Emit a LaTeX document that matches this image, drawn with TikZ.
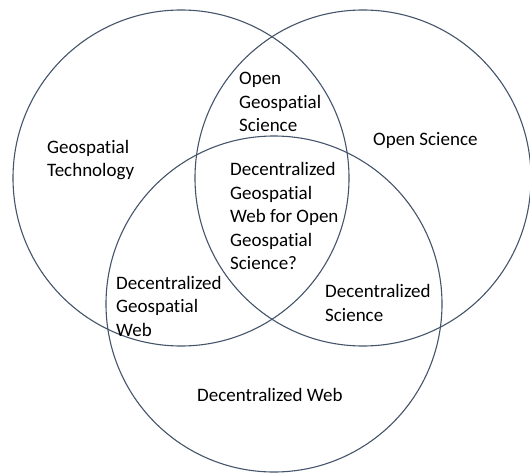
\documentclass[tikz,border=0pt]{standalone}
\usepackage{fontspec}
\setmainfont{Carlito}[Ligatures=NoCommon]
\definecolor{ringcol}{HTML}{44546A}
\begin{document}
\begin{tikzpicture}[x=1pt,y=-1pt,
  ringc/.style={circle, draw=ringcol, line width=1.1pt, inner sep=0pt, minimum size=336pt},
  lbl/.style={anchor=west, align=left, inner sep=0pt, text=black,
              font=\fontsize{19}{23.5}\selectfont}]
\useasboundingbox (0,0) rectangle (530,476);
% the three sets
\node[ringc] (geo)  at (181,178) {};
\node[ringc] (open) at (363,178) {};
\node[ringc] (dweb) at (274,304) {};
% region labels
\node[lbl] (tgeo)  at (47,160)  {Geospatial\\Technology};
\node[lbl] (topen) at (373,140) {Open Science};
\node[lbl] (tdweb) at (197,395) {Decentralized Web};
\node[lbl] (togs)  at (239,102) {Open\\Geospatial\\Science};
\node[lbl] (tdgw)  at (116,306) {Decentralized\\Geospatial\\Web};
\node[lbl] (tds)   at (325,303) {Decentralized\\Science};
\node[lbl] (tall)  at (230,216) {Decentralized\\Geospatial\\Web for Open\\Geospatial\\Science?};
\end{tikzpicture}
\end{document}
